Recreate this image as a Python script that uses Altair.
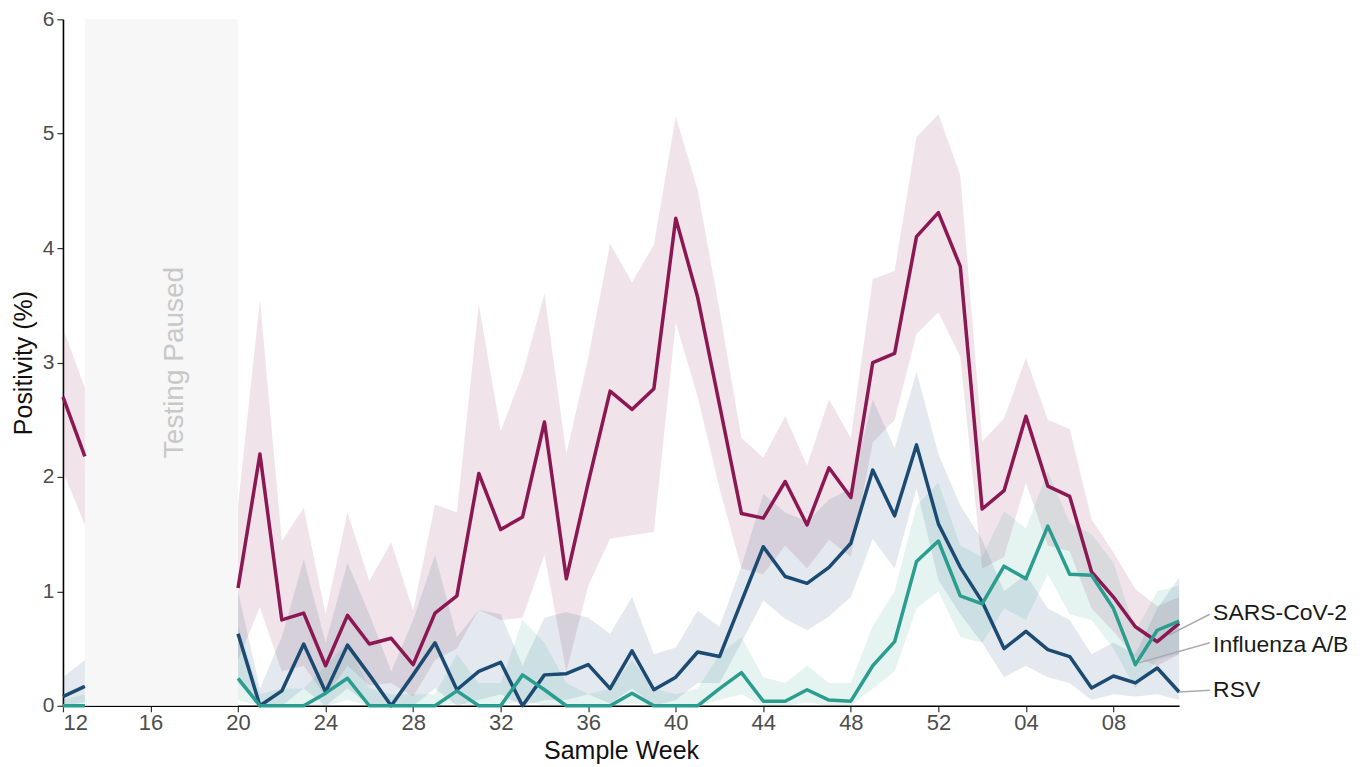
import json
import altair as alt
import pandas as pd

# ---- categories -------------------------------------------------------------
weeks = [f"{w:02d}" for w in list(range(12, 53)) + list(range(1, 12))]
tick_labels = ["12", "16", "20", "24", "28", "32", "36", "40", "44", "48", "52", "04", "08"]
series_names = ["SARS-CoV-2", "Influenza A/B", "RSV"]
series_colors = ["#8B1753", "#2A9D8F", "#1B4A72"]
paused_from, paused_to = "13", "20"
N = None

# ---- values (weeks 12..52, 01..11; None = testing paused) -------------------
sars = [2.70, 2.18, N, N, N, N, N, N,
        1.03, 2.20, 0.75, 0.81, 0.35, 0.79, 0.54, 0.59, 0.36, 0.81, 0.96, 2.03, 1.54,
        1.65, 2.48, 1.11, 1.95, 2.75, 2.59, 2.77, 4.26, 3.57, 2.63, 1.68, 1.64, 1.96,
        1.58, 2.08, 1.82, 3.00, 3.08, 4.10, 4.31, 3.84, 1.72, 1.88, 2.53, 1.92, 1.83,
        1.17, 0.95, 0.69, 0.56, 0.72]
sars_lo = [2.05, 1.58, N, N, N, N, N, N,
           0.40, 0.86, 0.30, 0.35, 0.08, 0.35, 0.18, 0.20, 0.08, 0.40, 0.50, 0.84, 0.75,
           0.77, 1.32, 0.30, 1.05, 1.46, 1.49, 1.52, 3.35, 2.70, 1.90, 1.20, 1.15, 1.40,
           1.20, 1.45, 1.30, 2.30, 2.50, 3.25, 3.44, 3.05, 1.20, 1.30, 1.95, 1.40, 1.35,
           0.85, 0.65, 0.42, 0.35, 0.45]
sars_hi = [3.30, 2.78, N, N, N, N, N, N,
           1.75, 3.55, 1.44, 1.73, 0.80, 1.69, 1.09, 1.43, 0.83, 1.76, 1.69, 3.51, 2.40,
           2.90, 3.60, 2.20, 3.04, 4.04, 3.70, 4.03, 5.15, 4.51, 3.46, 2.34, 2.17, 2.53,
           2.10, 2.68, 2.34, 3.73, 3.80, 4.97, 5.17, 4.64, 2.31, 2.51, 3.04, 2.50, 2.42,
           1.63, 1.34, 1.02, 0.87, 0.95]

flu = [0.00, 0.00, N, N, N, N, N, N,
       0.24, 0.00, 0.00, 0.00, 0.11, 0.24, 0.00, 0.00, 0.00, 0.00, 0.13, 0.00, 0.00,
       0.27, 0.14, 0.00, 0.00, 0.00, 0.11, 0.00, 0.00, 0.00, 0.15, 0.29, 0.04, 0.04,
       0.14, 0.05, 0.04, 0.35, 0.56, 1.26, 1.44, 0.96, 0.89, 1.22, 1.11, 1.57, 1.15,
       1.14, 0.85, 0.36, 0.66, 0.74]
flu_lo = [0.00, 0.00, N, N, N, N, N, N,
          0.05, 0.00, 0.00, 0.00, 0.00, 0.05, 0.00, 0.00, 0.00, 0.00, 0.02, 0.00, 0.00,
          0.05, 0.00, 0.00, 0.00, 0.00, 0.02, 0.00, 0.00, 0.00, 0.05, 0.10, 0.00, 0.00,
          0.03, 0.00, 0.00, 0.15, 0.30, 0.85, 1.00, 0.60, 0.55, 0.85, 0.75, 1.15, 0.80,
          0.75, 0.50, 0.15, 0.40, 0.45]
flu_hi = [0.05, 0.10, N, N, N, N, N, N,
          0.70, 0.10, 0.15, 0.15, 0.35, 0.55, 0.15, 0.10, 0.10, 0.10, 0.45, 0.20, 0.20,
          0.75, 0.55, 0.20, 0.10, 0.15, 0.40, 0.15, 0.10, 0.15, 0.45, 0.60, 0.25, 0.20,
          0.35, 0.20, 0.20, 0.70, 1.00, 1.75, 1.95, 1.40, 1.30, 1.70, 1.55, 2.05, 1.60,
          1.50, 1.25, 0.65, 1.00, 1.05]

rsv = [0.08, 0.17, N, N, N, N, N, N,
       0.63, 0.00, 0.13, 0.54, 0.12, 0.53, 0.27, 0.00, 0.27, 0.55, 0.14, 0.30, 0.38,
       0.00, 0.27, 0.28, 0.36, 0.15, 0.48, 0.14, 0.25, 0.47, 0.43, 0.91, 1.39, 1.13,
       1.07, 1.21, 1.42, 2.06, 1.66, 2.28, 1.59, 1.21, 0.91, 0.50, 0.65, 0.49, 0.43,
       0.155, 0.26, 0.20, 0.33, 0.12]
rsv_lo = [0.00, 0.03, N, N, N, N, N, N,
          0.20, 0.00, 0.00, 0.15, 0.00, 0.15, 0.00, 0.00, 0.00, 0.15, 0.00, 0.05, 0.10,
          0.00, 0.05, 0.05, 0.10, 0.02, 0.15, 0.00, 0.05, 0.20, 0.20, 0.55, 0.92, 0.76,
          0.66, 0.78, 0.95, 1.46, 1.20, 1.90, 1.10, 0.80, 0.55, 0.25, 0.35, 0.25, 0.20,
          0.05, 0.10, 0.08, 0.10, 0.05]
rsv_hi = [0.25, 0.40, N, N, N, N, N, N,
          1.00, 0.15, 0.60, 1.28, 0.55, 1.25, 0.80, 0.30, 0.75, 1.32, 0.60, 0.84, 0.80,
          0.35, 0.77, 0.82, 0.77, 0.63, 0.95, 0.45, 0.51, 0.83, 0.69, 1.22, 1.85, 1.69,
          1.61, 1.80, 1.90, 2.68, 2.25, 2.92, 2.20, 1.75, 1.45, 1.00, 1.15, 0.85, 0.75,
          0.45, 0.55, 0.45, 0.85, 1.12]

# direct labels: (label x position, label y, leader start, leader end)
label_x = [52.55, 52.55, 52.55]
label_y = [0.81, 0.53, 0.14]
leader_x0 = [52.4, 52.4, 52.4]
leader_y0 = [0.80, 0.55, 0.135]
leader_x1 = [50.55, 49.15, 51.0]
leader_y1 = [0.62, 0.375, 0.12]

# ---- tables -------------------------------------------------------------------
gap_start = weeks.index(paused_from)
rows = []
for name, vals, lo, hi in [("SARS-CoV-2", sars, sars_lo, sars_hi),
                           ("RSV", rsv, rsv_lo, rsv_hi),
                           ("Influenza A/B", flu, flu_lo, flu_hi)]:
    for i, (w, v, l, h) in enumerate(zip(weeks, vals, lo, hi)):
        if v is None:
            continue
        rows.append(dict(idx=i, week=w, series=name, value=v, lo=l, hi=h,
                         seg=0 if i <= gap_start else 1))
df = pd.DataFrame(rows)
df["order"] = df["series"].map({"SARS-CoV-2": 0, "RSV": 1, "Influenza A/B": 2})

lab = pd.DataFrame(dict(series=series_names, lx=label_x, ly=label_y,
                        x0=leader_x0, y0=leader_y0, x1=leader_x1, y1=leader_y1))
paused = pd.DataFrame(dict(x0=[weeks.index(paused_from)], x1=[weeks.index(paused_to)],
                           y0=[0], y1=[6], text=["Testing Paused"],
                           tx=[5.1], ty=[3.0]))

W, H = 1117, 687
FONT = "Liberation Sans"
tick_idx = [weeks.index(t) for t in tick_labels]

x_scale = alt.Scale(domain=[0, len(weeks) - 1], nice=False, zero=False)
y_scale = alt.Scale(domain=[0, 6], nice=False)
color = alt.Color("series:N", scale=alt.Scale(domain=series_names, range=series_colors),
                  legend=None)

x_axis = alt.Axis(values=tick_idx, labelExpr=f"{json.dumps(weeks)}[datum.value]",
                  title="Sample Week", grid=False, labelFontSize=22, labelColor="#4d4d4d",
                  titleFontSize=25, titleFontWeight="normal", titleColor="#111",
                  titlePadding=5, tickSize=6, tickColor="#333", tickWidth=1.2,
                  domainColor="#000", domainWidth=1.6, labelPadding=1,
                  labelFont=FONT, titleFont=FONT)
y_axis = alt.Axis(values=[0, 1, 2, 3, 4, 5, 6], format="d", title="Positivity (%)",
                  grid=False, labelFontSize=21, labelColor="#4d4d4d", titleFontSize=25,
                  titleFontWeight="normal", titleColor="#111", titlePadding=6,
                  tickSize=6, tickColor="#333", tickWidth=1.2, domainColor="#000",
                  domainWidth=1.6, labelPadding=3, labelFont=FONT, titleFont=FONT)

rect = alt.Chart(paused).mark_rect(color="#f7f7f7").encode(
    x=alt.X("x0:Q", scale=x_scale, axis=x_axis),
    x2="x1:Q",
    y=alt.Y("y0:Q", scale=y_scale, axis=y_axis),
    y2="y1:Q",
)
ptext = alt.Chart(paused).mark_text(angle=270, fontSize=28, color="#c8c8c8", font=FONT,
                                    align="center", baseline="middle").encode(
    x=alt.X("tx:Q", scale=x_scale), y=alt.Y("ty:Q", scale=y_scale), text="text:N")

bands = alt.Chart(df).mark_area(opacity=0.12).encode(
    x=alt.X("idx:Q", scale=x_scale),
    y=alt.Y("lo:Q", scale=y_scale),
    y2="hi:Q",
    color=color,
    detail="seg:N",
    order="order:Q",
)
lines = alt.Chart(df).mark_line(strokeWidth=3.5, strokeJoin="round", strokeCap="butt").encode(
    x=alt.X("idx:Q", scale=x_scale),
    y=alt.Y("value:Q", scale=y_scale),
    color=color,
    detail="seg:N",
    order="idx:Q",
)
leaders = alt.Chart(lab).mark_rule(color="#aaaaaa", strokeWidth=1.5).encode(
    x=alt.X("x0:Q", scale=x_scale), y=alt.Y("y0:Q", scale=y_scale),
    x2="x1:Q", y2="y1:Q")
labels = alt.Chart(lab).mark_text(align="left", baseline="middle", fontSize=23,
                                  font=FONT, color="#1a1a1a").encode(
    x=alt.X("lx:Q", scale=x_scale), y=alt.Y("ly:Q", scale=y_scale), text="series:N")

chart = alt.layer(rect, ptext, bands, lines, leaders, labels).properties(
    width=W, height=H,
    padding={"left": 55, "top": 11, "right": 180, "bottom": 60},
    autosize=alt.AutoSizeParams(type="none"),
).configure(font=FONT, view=alt.ViewConfig(stroke=None))

chart.save("out.html", embed_options={"renderer": "svg", "actions": False})
